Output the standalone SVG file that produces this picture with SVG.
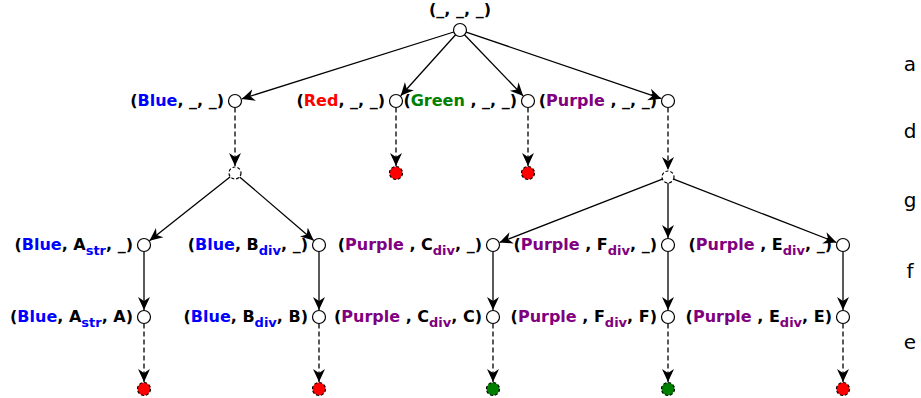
<svg xmlns="http://www.w3.org/2000/svg" width="921" height="398" viewBox="0 0 921 398">
<style>
.lbl{font-family:"DejaVu Sans","Liberation Sans",sans-serif;font-weight:bold;font-size:16px;fill:#000;text-anchor:end}
.root{text-anchor:middle}
.sub{font-size:13px}
.b{fill:#0000ff}.r{fill:#ff0000}.g{fill:#008000}.p{fill:#800080}
.lvl{font-family:"DejaVu Sans","Liberation Sans",sans-serif;font-size:20px;fill:#000;text-anchor:middle}
.node{fill:#fff;stroke:#000;stroke-width:1.2}
.junc{fill:#fff;stroke:#000;stroke-width:1.2;stroke-dasharray:3 2}
.tr{fill:#ff0000;stroke:#000;stroke-width:1.2;stroke-dasharray:3 2}
.tg{fill:#007f00;stroke:#000;stroke-width:1.2;stroke-dasharray:3 2}
.e{fill:none;stroke:#000;stroke-width:1.3;marker-end:url(#ah)}
.d{stroke-dasharray:5 3}
</style>
<defs>
<marker id="ah" viewBox="-13 -7 14 14" refX="0" refY="0" markerWidth="14" markerHeight="14" markerUnits="userSpaceOnUse" orient="auto">
<path d="M0,0 L-13,-6 L-9,0 L-13,6 Z" fill="#000"/>
</marker>
</defs>
<g id="connectors">
<line class="e" x1="453.8" y1="32" x2="241.7" y2="98.9"/>
<line class="e" x1="455.6" y1="34.8" x2="400.7" y2="95.8"/>
<line class="e" x1="464.5" y1="34.7" x2="523.2" y2="95.9"/>
<line class="e" x1="466.2" y1="32.1" x2="661.4" y2="98.7"/>
<line class="e d" x1="235" y1="107.5" x2="235" y2="166"/>
<line class="e d" x1="396" y1="107.5" x2="396" y2="166"/>
<line class="e d" x1="528" y1="107.5" x2="528" y2="166"/>
<line class="e d" x1="668" y1="107.5" x2="668" y2="170"/>
<line class="e" x1="230.3" y1="176.7" x2="149.5" y2="240.7"/>
<line class="e" x1="239.6" y1="176.9" x2="313.7" y2="240.4"/>
<line class="e" x1="662.4" y1="179.2" x2="499.5" y2="242.5"/>
<line class="e" x1="668" y1="183" x2="668" y2="238"/>
<line class="e" x1="673.6" y1="179.2" x2="836.5" y2="242.5"/>
<line class="e" x1="144" y1="251.5" x2="144" y2="310"/>
<line class="e" x1="319" y1="251.5" x2="319" y2="310"/>
<line class="e" x1="493" y1="251.5" x2="493" y2="310"/>
<line class="e" x1="668" y1="251.5" x2="668" y2="310"/>
<line class="e" x1="843" y1="251.5" x2="843" y2="310"/>
<line class="e d" x1="144" y1="323.5" x2="144" y2="382"/>
<line class="e d" x1="319" y1="323.5" x2="319" y2="382"/>
<line class="e d" x1="493" y1="323.5" x2="493" y2="382"/>
<line class="e d" x1="668" y1="323.5" x2="668" y2="382"/>
<line class="e d" x1="843" y1="323.5" x2="843" y2="382"/>
</g>
<g id="n-root"><circle class="node" cx="460" cy="30" r="6.5"/><text class="lbl root" x="460" y="15">(_, _, _)</text></g>
<g id="n-blue"><circle class="node" cx="235" cy="101" r="6.5"/><text class="lbl" x="224" y="106">(<tspan class="b">Blue</tspan>, _, _)</text></g>
<g id="n-red"><circle class="node" cx="396" cy="101" r="6.5"/><text class="lbl" x="385" y="106">(<tspan class="r">Red</tspan>, _, _)</text></g>
<g id="n-green"><circle class="node" cx="528" cy="101" r="6.5"/><text class="lbl" x="517" y="106">(<tspan class="g">Green</tspan> , _, _)</text></g>
<g id="n-purple"><circle class="node" cx="668" cy="101" r="6.5"/><text class="lbl" x="657" y="106">(<tspan class="p">Purple</tspan> , _, _)</text></g>
<g id="n-bj"><circle class="junc" cx="235" cy="173" r="6"/></g>
<g id="n-rt"><circle class="tr" cx="396" cy="173" r="6.5"/></g>
<g id="n-gt"><circle class="tr" cx="528" cy="173" r="6.5"/></g>
<g id="n-pj"><circle class="junc" cx="668" cy="177" r="6"/></g>
<g id="n-ba"><circle class="node" cx="144" cy="245" r="6.5"/><text class="lbl" x="133" y="250">(<tspan class="b">Blue</tspan>, A<tspan class="sub b" dy="5">str</tspan><tspan dy="-5">, _)</tspan></text></g>
<g id="n-bb"><circle class="node" cx="319" cy="245" r="6.5"/><text class="lbl" x="308" y="250">(<tspan class="b">Blue</tspan>, B<tspan class="sub b" dy="5">div</tspan><tspan dy="-5">, _)</tspan></text></g>
<g id="n-pc"><circle class="node" cx="493" cy="245" r="6.5"/><text class="lbl" x="482" y="250">(<tspan class="p">Purple</tspan> , C<tspan class="sub p" dy="5">div</tspan><tspan dy="-5">, _)</tspan></text></g>
<g id="n-pf"><circle class="node" cx="668" cy="245" r="6.5"/><text class="lbl" x="657" y="250">(<tspan class="p">Purple</tspan> , F<tspan class="sub p" dy="5">div</tspan><tspan dy="-5">, _)</tspan></text></g>
<g id="n-pe"><circle class="node" cx="843" cy="245" r="6.5"/><text class="lbl" x="832" y="250">(<tspan class="p">Purple</tspan> , E<tspan class="sub p" dy="5">div</tspan><tspan dy="-5">, _)</tspan></text></g>
<g id="n-baa"><circle class="node" cx="144" cy="317" r="6.5"/><text class="lbl" x="133" y="322">(<tspan class="b">Blue</tspan>, A<tspan class="sub b" dy="5">str</tspan><tspan dy="-5">, A)</tspan></text></g>
<g id="n-bbb"><circle class="node" cx="319" cy="317" r="6.5"/><text class="lbl" x="308" y="322">(<tspan class="b">Blue</tspan>, B<tspan class="sub b" dy="5">div</tspan><tspan dy="-5">, B)</tspan></text></g>
<g id="n-pcc"><circle class="node" cx="493" cy="317" r="6.5"/><text class="lbl" x="482" y="322">(<tspan class="p">Purple</tspan> , C<tspan class="sub p" dy="5">div</tspan><tspan dy="-5">, C)</tspan></text></g>
<g id="n-pff"><circle class="node" cx="668" cy="317" r="6.5"/><text class="lbl" x="657" y="322">(<tspan class="p">Purple</tspan> , F<tspan class="sub p" dy="5">div</tspan><tspan dy="-5">, F)</tspan></text></g>
<g id="n-pee"><circle class="node" cx="843" cy="317" r="6.5"/><text class="lbl" x="832" y="322">(<tspan class="p">Purple</tspan> , E<tspan class="sub p" dy="5">div</tspan><tspan dy="-5">, E)</tspan></text></g>
<g id="t1"><circle class="tr" cx="144" cy="389" r="6.5"/></g>
<g id="t2"><circle class="tr" cx="319" cy="389" r="6.5"/></g>
<g id="t3"><circle class="tg" cx="493" cy="389" r="6.5"/></g>
<g id="t4"><circle class="tg" cx="668" cy="389" r="6.5"/></g>
<g id="t5"><circle class="tr" cx="843" cy="389" r="6.5"/></g>
<g id="levels">
<text class="lvl" x="910" y="70.5">a</text>
<text class="lvl" x="910" y="137.5">d</text>
<text class="lvl" x="910" y="206.5">g</text>
<text class="lvl" x="910" y="277.5">f</text>
<text class="lvl" x="910" y="348.5">e</text>
</g>
</svg>
